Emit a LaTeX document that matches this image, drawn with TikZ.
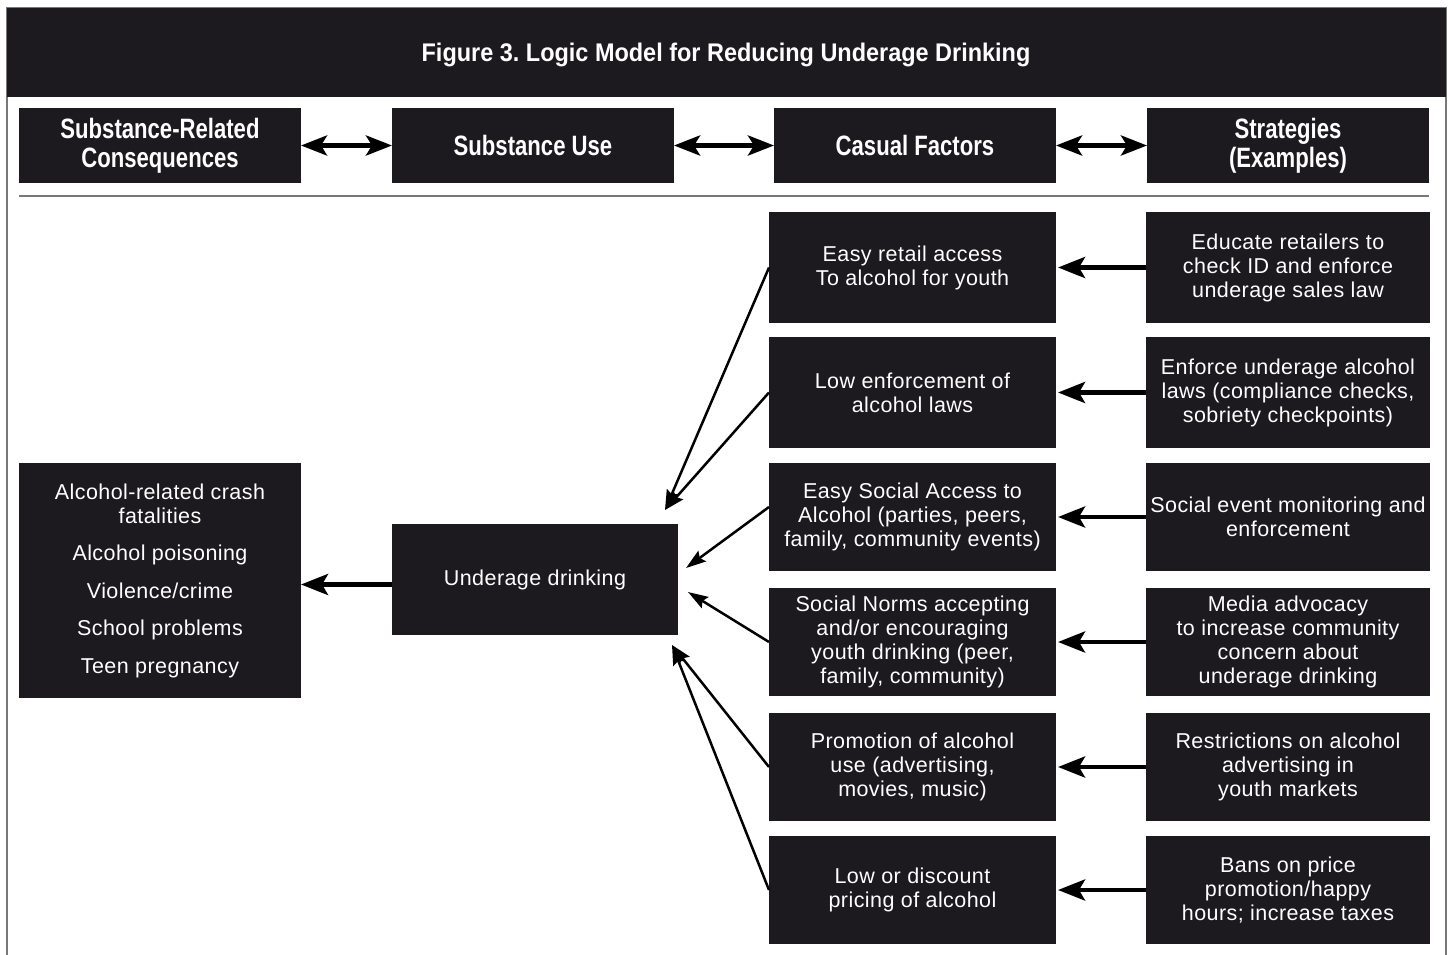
\documentclass[tikz,border=0pt]{standalone}
\usepackage{fontspec}
\setmainfont{Liberation Sans}[LetterSpace=2]
\newfontfamily\hdrfont[FakeStretch=0.79]{Liberation Sans Bold}
\newfontfamily\ttlfont[FakeStretch=0.92]{Liberation Sans Bold}
\usetikzlibrary{arrows.meta,calc}
\definecolor{boxc}{RGB}{28,26,30}
\definecolor{framec}{RGB}{120,120,120}
\begin{document}
\begin{tikzpicture}[x=1pt,y=-1pt,
 box/.style={fill=boxc,text=white,inner sep=0pt,outer sep=0pt,align=center,font=\fontsize{21.5}{24}\selectfont},
 hdr/.style={box,minimum width=282pt,minimum height=75pt,font=\hdrfont\fontsize{28}{29}\selectfont},
 cbox/.style={box,minimum width=287pt},
 sbox/.style={box,minimum width=284pt},
 bigarrow/.style={line width=4.5pt,-{Stealth[length=27pt,width=21pt,inset=6pt]}},
 dblarrow/.style={line width=4.5pt,{Stealth[length=26pt,width=20pt,inset=6pt]}-{Stealth[length=26pt,width=20pt,inset=6pt]}},
 thinarrow/.style={line width=2.5pt,-{Stealth[length=20pt,width=13pt,inset=3pt]}},
 frameline/.style={draw=framec,line width=1.5pt}
]
\useasboundingbox (0,0) rectangle (1452,955);
% frame and title bar
\draw[frameline] (7,955) -- (7,8) -- (1446,8) -- (1446,955);
\fill[boxc] (7,8) rectangle (1446,97);
\node[text=white,font=\ttlfont\fontsize{25.5}{30}\selectfont] (title) at (726,55) {Figure 3.\ Logic Model for Reducing Underage Drinking};
% header row
\node[hdr] (h1) at (160,145.5) {Substance-Related\\Consequences};
\node[hdr] (h2) at (533,145.5) {Substance Use};
\node[hdr] (h3) at (915,145.5) {Casual Factors};
\node[hdr] (h4) at (1288,145.5) {Strategies\\(Examples)};
\draw[dblarrow] (h1.east) -- (h2.west);
\draw[dblarrow] (h2.east) -- (h3.west);
\draw[dblarrow] (h3.east) -- (h4.west);
\draw[frameline] (19,196) -- (1429,196);
% causal factors
\node[cbox,minimum height=111pt] (c1) at (912.5,267.5) {Easy retail access\\To alcohol for youth};
\node[cbox,minimum height=111pt] (c2) at (912.5,392.5) {Low enforcement of\\alcohol laws};
\node[cbox,minimum height=108pt] (c3) at (912.5,517) {Easy Social Access to\\Alcohol (parties, peers,\\family, community events)};
\node[cbox,minimum height=108pt] (c4) at (912.5,642) {Social Norms accepting\\and/or encouraging\\youth drinking (peer,\\family, community)};
\node[cbox,minimum height=108pt] (c5) at (912.5,767) {Promotion of alcohol\\use (advertising,\\movies, music)};
\node[cbox,minimum height=108pt] (c6) at (912.5,890) {Low or discount\\pricing of alcohol};
% strategies
\node[sbox,minimum height=111pt] (s1) at (1288,267.5) {Educate retailers to\\check ID and enforce\\underage sales law};
\node[sbox,minimum height=111pt] (s2) at (1288,392.5) {Enforce underage alcohol\\laws (compliance checks,\\sobriety checkpoints)};
\node[sbox,minimum height=108pt] (s3) at (1288,517) {Social event monitoring and\\enforcement};
\node[sbox,minimum height=108pt] (s4) at (1288,642) {Media advocacy\\to increase community\\concern about\\underage drinking};
\node[sbox,minimum height=108pt] (s5) at (1288,767) {Restrictions on alcohol\\advertising in\\youth markets};
\node[sbox,minimum height=108pt] (s6) at (1288,890) {Bans on price\\promotion/happy\\hours; increase taxes};
\foreach \i in {1,...,6}{
  \draw[bigarrow,shorten >=2pt] (s\i.west) -- (c\i.east);
}
% substance use and consequences
\node[box,minimum width=286pt,minimum height=111pt] (ud) at (535,579.5) {Underage drinking};
\node[box,minimum width=282pt,minimum height=235pt] (cons) at (160,580.5) {Alcohol-related crash\\fatalities\\[13.5pt]Alcohol poisoning\\[13.5pt]Violence/crime\\[13.5pt]School problems\\[13.5pt]Teen pregnancy};
\draw[bigarrow] ($(ud.west)+(0,5)$) -- ($(cons.east)+(0,4)$);
% arrow targets near the underage drinking box
\coordinate (tA) at (665,510);
\coordinate (tB) at (686,568);
\coordinate (tC) at (688,592);
\coordinate (tD) at (672,645);
\draw[thinarrow] (c1.west) -- (tA);
\draw[thinarrow] (c2.west) -- (tA);
\draw[thinarrow] ($(c3.west)+(0,-10)$) -- (tB);
\draw[thinarrow] (c4.west) -- (tC);
\draw[thinarrow] (c5.west) -- (tD);
\draw[thinarrow] (c6.west) -- (tD);
\end{tikzpicture}
\end{document}
